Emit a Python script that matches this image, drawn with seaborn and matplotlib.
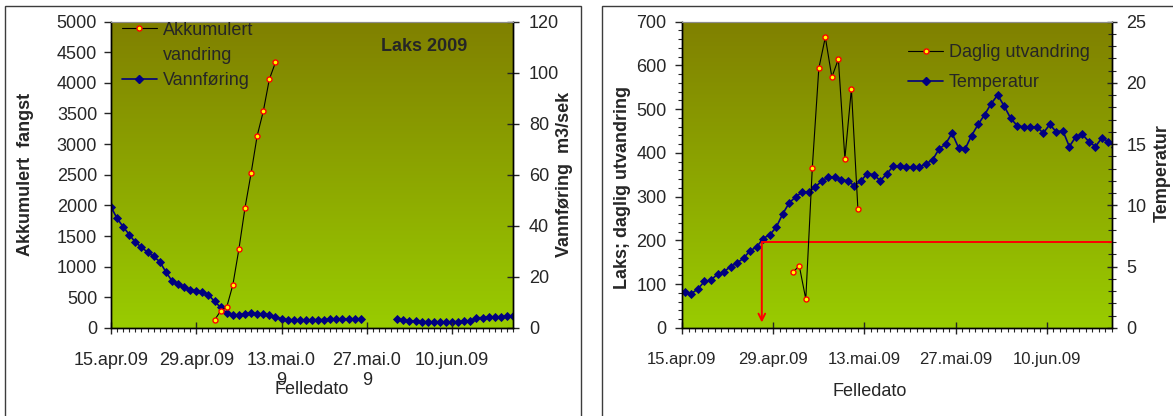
import numpy as np
import pandas as pd
import seaborn as sns
import matplotlib.pyplot as plt
from matplotlib.lines import Line2D
from matplotlib.patches import Rectangle
from matplotlib.colors import LinearSegmentedColormap
from matplotlib.ticker import MultipleLocator, FixedLocator

# dager etter 15.apr.09
tick_days = [0, 14, 28, 42, 56]
left_ticklabels = ['15.apr.09', '29.apr.09', '13.mai.0\n9', '27.mai.0\n9', '10.jun.09']
right_ticklabels = ['15.apr.09', '29.apr.09', '13.mai.09', '27.mai.09', '10.jun.09']

# vannføring m3/sek (hull 27.-31. mai)
flow_days_a = list(range(0, 42))
flow_a = [47.4, 42.9, 39.6, 36.6, 33.5, 31.7, 29.6, 28.0, 26.0, 22.0,
          18.5, 17.1, 15.9, 15.0, 14.5, 14.1, 13.0, 10.4, 8.1, 5.7,
          5.0, 5.2, 5.5, 5.8, 5.6, 5.5, 5.0, 4.5, 3.5, 3.2,
          3.0, 3.1, 3.1, 3.2, 3.3, 3.2, 3.4, 3.5, 3.5, 3.5, 3.5, 3.5]
flow_days_b = list(range(47, 67))
flow_b = [3.4, 3.1, 2.8, 2.6, 2.5, 2.4, 2.4, 2.4, 2.4, 2.4, 2.5, 2.6, 2.8,
          3.9, 4.1, 4.2, 4.3, 4.4, 4.6, 4.7]

# laks
catch_days = list(range(17, 28))
cum_catch = [130, 277, 342, 700, 1287, 1960, 2524, 3137, 3534, 4060, 4332]
daily_catch = [127, 142, 66, 366, 593, 664, 573, 614, 387, 546, 271]

# temperatur (målt midt på dagen)
temp_days = [d + 0.45 for d in range(67)]
temp = [2.9, 2.8, 3.2, 3.8, 3.9, 4.4, 4.6, 5.0, 5.3, 5.7,
        6.3, 6.6, 7.3, 7.6, 8.2, 9.3, 10.2, 10.7, 11.1, 11.1,
        11.5, 12.0, 12.3, 12.3, 12.1, 12.0, 11.6, 12.0, 12.6, 12.5,
        12.0, 12.6, 13.2, 13.2, 13.1, 13.1, 13.1, 13.4, 13.7, 14.6,
        15.0, 15.9, 14.7, 14.6, 15.7, 16.6, 17.4, 18.3, 19.0, 18.1,
        17.1, 16.5, 16.4, 16.4, 16.4, 15.9, 16.6, 16.0, 16.1, 14.8,
        15.6, 15.8, 15.2, 14.8, 15.5, 15.2, 14.8]

# start utvandring ved 7 grader
start_day = 12.25
start_temp = 7.0

NAVY = '#000080'

sns.set_style("ticks")
plt.rcParams['font.family'] = ['Liberation Sans', 'DejaVu Sans']
plt.rcParams['font.size'] = 13

W, H = 1173, 416
fig = plt.figure(figsize=(W / 100, H / 100), dpi=100)


def px_rect(x0, y0, x1, y1):
    return [x0 / W, 1 - y1 / H, (x1 - x0) / W, (y1 - y0) / H]


grad = np.linspace(0, 1, 256).reshape(-1, 1)
bg_cmap = LinearSegmentedColormap.from_list('bg', ['#99CC00', '#808000'])


def make_axes(rect):
    bg = fig.add_axes(rect, zorder=0)
    bg.imshow(grad, aspect='auto', cmap=bg_cmap, origin='lower', extent=[0, 1, 0, 1])
    bg.axis('off')
    ax = fig.add_axes(rect, zorder=2)
    ax.patch.set_visible(False)
    ax2 = ax.twinx()
    ax2.set_zorder(1)
    for a in (ax, ax2):
        for s in a.spines.values():
            s.set_color('black')
            s.set_linewidth(1.0)
        a.spines['top'].set_color('#8c8c8c')
        a.spines['top'].set_linewidth(0.8)
    return ax, ax2


def style_x(ax, labels, size):
    ax.set_xlim(0, 66)
    ax.xaxis.set_major_locator(FixedLocator(tick_days))
    ax.set_xticklabels(labels)
    ax.xaxis.set_minor_locator(MultipleLocator(1))
    ax.tick_params(axis='x', which='major', direction='inout', length=8, width=1,
                   labelsize=size, pad=13.5)
    ax.tick_params(axis='x', which='minor', direction='out', length=3, width=0.8)


# ---------------- venstre: akkumulert fangst ----------------
axL, axF = make_axes(px_rect(111, 21.5, 513, 328))

flow_df = pd.DataFrame({
    'day': flow_days_a + flow_days_b,
    'flow': flow_a + flow_b,
    'segment': ['a'] * len(flow_a) + ['b'] * len(flow_b),
})
sns.lineplot(data=flow_df, x='day', y='flow', units='segment', estimator=None,
             color=NAVY, lw=1.2, marker='D', ms=4.3, mfc=NAVY, mec=NAVY, mew=0.6,
             legend=False, ax=axF)

cum_df = pd.DataFrame({'day': catch_days, 'catch': cum_catch})
sns.lineplot(data=cum_df, x='day', y='catch', color='black', lw=0.8,
             marker='o', ms=3.6, mfc='yellow', mec='red', mew=1.0, ax=axL)

axL.set_ylim(0, 5000)
axL.yaxis.set_major_locator(MultipleLocator(500))
axL.tick_params(axis='y', direction='out', length=5, width=1, labelsize=13, pad=5)
axF.set_ylim(0, 120)
axF.yaxis.set_major_locator(MultipleLocator(20))
axF.tick_params(axis='y', direction='inout', length=9, width=1, labelsize=13, pad=7)
style_x(axL, left_ticklabels, 13)

axL.set_ylabel('Akkumulert  fangst', fontweight='bold', fontsize=13)
axL.yaxis.set_label_coords(-0.212, 0.5)
axL.yaxis.label.set_va('center')
axF.set_ylabel('Vannføring  m3/sek', fontweight='bold', fontsize=13)
axF.yaxis.set_label_coords(1.128, 0.5)
axF.yaxis.label.set_va('center')
axL.set_xlabel('Felledato', fontsize=13)
axL.xaxis.set_label_coords(0.5, -0.2)
axL.xaxis.label.set_va('center')

axL.text(0.779, 0.918, 'Laks 2009', transform=axL.transAxes, ha='center', va='center',
         fontsize=13, fontweight='bold')

h_red = Line2D([], [], color='black', lw=0.8, marker='o', ms=3.6, mfc='yellow', mec='red', mew=1.0)
h_blank = Line2D([], [], color='none')
h_blue = Line2D([], [], color=NAVY, lw=1.2, marker='D', ms=4.3, mfc=NAVY, mec=NAVY)
axL.legend([h_red, h_blank, h_blue], ['Akkumulert', 'vandring', 'Vannføring'],
           loc='upper left', bbox_to_anchor=(0.027, 0.999), frameon=False, fontsize=13,
           handlelength=1.95, handletextpad=0.3, labelspacing=0.45,
           borderpad=0, borderaxespad=0)

# ---------------- høyre: daglig utvandring ----------------
axD, axT = make_axes(px_rect(682, 21.5, 1112, 328))

temp_df = pd.DataFrame({'day': temp_days, 'temp': temp})
sns.lineplot(data=temp_df, x='day', y='temp', color=NAVY, lw=1.2, marker='D', ms=4.3,
             mfc=NAVY, mec=NAVY, mew=0.6, ax=axT)

daily_df = pd.DataFrame({'day': catch_days, 'catch': daily_catch})
sns.lineplot(data=daily_df, x='day', y='catch', color='black', lw=0.8,
             marker='o', ms=3.6, mfc='yellow', mec='red', mew=1.0, ax=axD)

axT.plot([start_day, 66], [start_temp, start_temp], color='red', lw=1.4, zorder=5)
axT.annotate('', xy=(start_day, 0.45), xytext=(start_day, start_temp),
             arrowprops=dict(arrowstyle='->', color='red', lw=1.4, shrinkA=0, shrinkB=0,
                             mutation_scale=12), zorder=5)

axD.set_ylim(0, 700)
axD.yaxis.set_major_locator(MultipleLocator(100))
axD.yaxis.set_minor_locator(MultipleLocator(20))
axD.tick_params(axis='y', which='major', direction='out', length=5, width=1, labelsize=13, pad=6)
axD.tick_params(axis='y', which='minor', direction='out', length=3, width=0.8)
axT.set_ylim(0, 25)
axT.yaxis.set_major_locator(MultipleLocator(5))
axT.yaxis.set_minor_locator(MultipleLocator(1))
axT.tick_params(axis='y', which='major', direction='inout', length=7, width=1, labelsize=13, pad=7)
axT.tick_params(axis='y', which='minor', direction='inout', length=6, width=0.8)
style_x(axD, right_ticklabels, 12)

axD.set_ylabel('Laks; daglig utvandring', fontweight='bold', fontsize=13)
axD.yaxis.set_label_coords(-0.1395, 0.457)
axD.yaxis.label.set_va('center')
axT.set_ylabel('Temperatur', fontweight='bold', fontsize=13)
axT.yaxis.set_label_coords(1.116, 0.507)
axT.yaxis.label.set_va('center')
axD.set_xlabel('Felledato', fontsize=13)
axD.xaxis.set_label_coords(0.437, -0.206)
axD.xaxis.label.set_va('center')

axD.legend([h_red, h_blue], ['Daglig utvandring', 'Temperatur'],
           loc='upper left', bbox_to_anchor=(0.526, 0.927), frameon=False, fontsize=13,
           handlelength=1.95, handletextpad=0.3, labelspacing=0.72,
           borderpad=0, borderaxespad=0)

# rammer rundt diagrammene
for x0, x1 in [(5, 581), (602, 1190)]:
    fig.add_artist(Rectangle((x0 / W, -0.1), (x1 - x0) / W, 1.1 - 6 / H,
                             transform=fig.transFigure, fill=False,
                             edgecolor='#3c3c3c', linewidth=1.0))

fig.savefig('out.png', dpi=100)
